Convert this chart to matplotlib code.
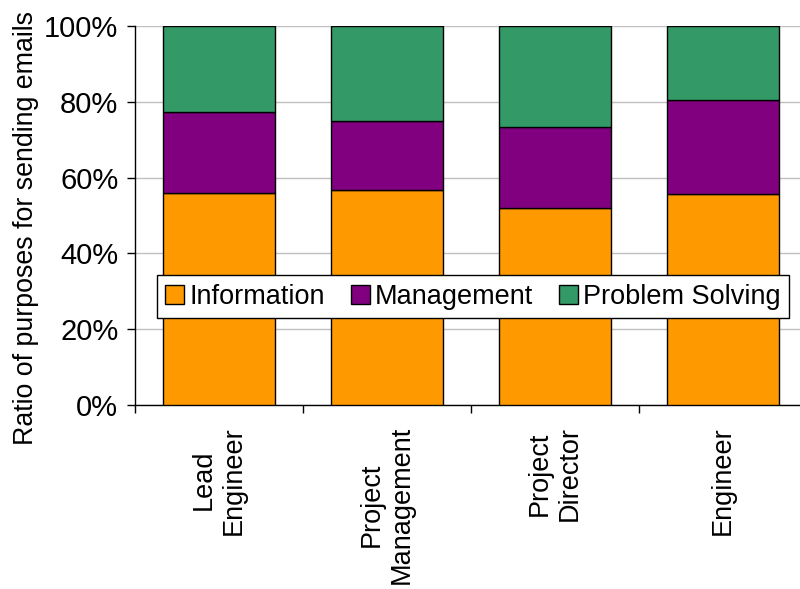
import numpy as np
import matplotlib.pyplot as plt
from matplotlib.ticker import FixedLocator, PercentFormatter

plt.rcParams['font.family'] = ['Liberation Sans', 'DejaVu Sans']

# ----------------------------------------------------------------------------
# DATA - share of each email purpose per role (percent)
# ----------------------------------------------------------------------------
roles = ['Lead\nEngineer', 'Project\nManagement', 'Project\nDirector', 'Engineer']
information = [56.0, 56.6, 52.1, 55.7]
management = [21.3, 18.4, 21.3, 24.8]
problem_solving = [22.7, 25.0, 26.6, 19.5]

colors = ['#FF9900', '#800080', '#339966']
labels = ['Information', 'Management', 'Problem Solving']

# ----------------------------------------------------------------------------
# PLOT
# ----------------------------------------------------------------------------
fig = plt.figure(figsize=(8.0, 5.89), dpi=100)
ax = fig.add_axes([135 / 800, 1 - 405 / 589, 672 / 800, 379 / 589])

x = np.arange(len(roles))
bottom = np.zeros(len(roles))
for vals, col, lab in zip([information, management, problem_solving], colors, labels):
    ax.bar(x, vals, width=0.667, bottom=bottom, color=col, edgecolor='black',
           linewidth=1.0, label=lab, zorder=3)
    bottom += np.array(vals)

ax.set_xlim(-0.5, len(roles) - 0.5)
ax.set_ylim(0, 100)
ax.yaxis.set_major_locator(FixedLocator([0, 20, 40, 60, 80, 100]))
ax.yaxis.set_major_formatter(PercentFormatter(decimals=0))
ax.grid(axis='y', color='#c0c0c0', linewidth=1.0, zorder=0)

ax.set_xticks(x)
ax.set_xticklabels(roles, rotation=90, ha='center', va='top',
                   multialignment='center', fontsize=19.5)
ax.set_xticks(np.arange(-0.5, len(roles)), minor=True)
ax.tick_params(axis='x', which='major', length=0, pad=15)
ax.tick_params(axis='x', which='minor', length=6, width=1, color='black')
ax.tick_params(axis='y', length=6, width=1, labelsize=21, pad=6)

for side in ['top', 'right']:
    ax.spines[side].set_visible(False)
for side in ['left', 'bottom']:
    ax.spines[side].set_color('black')
    ax.spines[side].set_linewidth(1.0)

ax.set_ylabel('Ratio of purposes for sending emails', fontsize=19.3)
ax.yaxis.set_label_coords(-96 / 672, 1 - (228 - 26) / 379)

leg = ax.legend(loc='center', bbox_to_anchor=(473 / 800, 1 - 296.5 / 589),
                bbox_transform=fig.transFigure, ncol=3, fontsize=19.5,
                frameon=True, fancybox=False, framealpha=1, edgecolor='black',
                handlelength=0.7, handleheight=0.7, handletextpad=0.2,
                columnspacing=0.95, borderpad=0.3)
leg.get_frame().set_linewidth(1.0)
leg.set_zorder(5)

plt.savefig('out.png', dpi=100)
plt.close()
